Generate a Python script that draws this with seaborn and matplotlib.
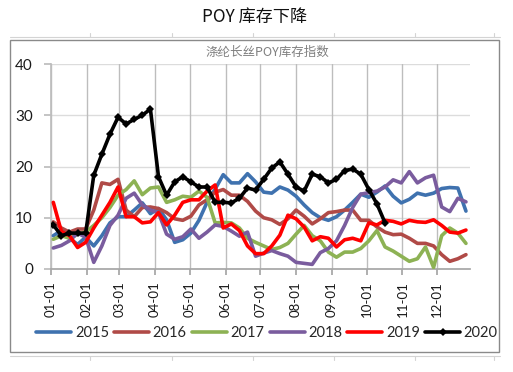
import numpy as np
import pandas as pd
import matplotlib
matplotlib.use("Agg")
import matplotlib.pyplot as plt
import seaborn as sns
from matplotlib.lines import Line2D
from matplotlib.patches import Rectangle

# ---------------- data ----------------
month_labels = ["01-01", "02-01", "03-01", "04-01", "05-01", "06-01",
                "07-01", "08-01", "09-01", "10-01", "11-01", "12-01"]
month_days = [0, 31, 59, 90, 120, 151, 181, 212, 243, 273, 304, 334]
years = ["2015", "2016", "2017", "2018", "2019", "2020"]

v2015 = [6.5, 7.5, 6.0, 4.8, 6.2, 4.5, 6.5, 9.0, 10.2, 10.2, 11.5, 12.9, 10.8,
         11.8, 9.6, 5.2, 5.7, 7.0, 9.5, 13.0, 15.6, 18.4, 16.8, 16.8, 18.6, 17.0,
         15.0, 14.8, 16.0, 15.4, 14.2, 12.5, 11.0, 10.0, 9.5, 10.2, 11.5, 13.0,
         14.6, 14.0, 15.0, 16.2, 14.2, 12.9, 13.6, 14.8, 14.4, 14.8, 15.7, 15.9,
         15.8, 11.3]
v2016 = [9.2, 8.0, 7.2, 7.8, 7.8, 11.5, 16.8, 16.5, 17.5, 11.5, 10.2, 12.0, 12.1,
         11.8, 11.0, 9.8, 9.5, 10.3, 12.5, 13.5, 15.0, 15.5, 14.4, 14.4, 13.2, 11.3,
         10.0, 9.6, 8.7, 9.8, 11.5, 10.3, 8.8, 9.8, 11.0, 11.2, 11.5, 11.5, 9.5,
         9.5, 8.2, 7.2, 6.7, 6.8, 6.0, 5.0, 5.0, 4.5, 2.8, 1.5, 2.0, 2.8]
v2017 = [5.8, 6.5, 6.0, 6.8, 7.2, 8.5, 10.0, 12.0, 14.4, 15.5, 17.2, 14.5, 15.8,
         16.0, 13.0, 13.5, 14.2, 14.0, 15.2, 14.0, 9.0, 9.1, 9.0, 8.0, 6.0, 5.2,
         4.5, 3.8, 4.2, 5.0, 6.8, 8.5, 6.5, 5.5, 3.3, 2.3, 3.3, 3.3, 4.0, 5.5, 7.5,
         4.3, 3.5, 2.5, 1.5, 2.0, 4.3, 0.3, 6.5, 8.0, 7.0, 5.0]
v2018 = [4.1, 4.6, 5.5, 7.0, 6.2, 1.3, 4.5, 8.5, 10.5, 13.8, 14.8, 12.5, 11.5,
         11.0, 6.8, 5.8, 6.3, 7.8, 6.0, 7.2, 8.6, 8.3, 7.4, 6.4, 7.2, 2.5, 3.1,
         3.6, 3.0, 2.5, 1.3, 1.1, 0.9, 3.2, 4.0, 5.5, 8.5, 12.0, 14.6, 14.9, 15.2,
         16.0, 17.4, 16.8, 19.0, 16.8, 17.8, 18.3, 12.1, 11.2, 13.8, 13.1]
v2019 = [13.0, 7.3, 6.5, 4.2, 5.2, 8.0, 10.5, 13.0, 16.0, 10.2, 10.2, 9.0, 9.2,
         11.0, 8.6, 10.5, 13.0, 13.5, 13.5, 15.2, 16.4, 8.0, 8.8, 7.5, 4.5, 3.0,
         3.0, 4.5, 6.6, 10.5, 9.8, 8.2, 5.5, 6.3, 6.0, 4.3, 5.7, 6.0, 5.5, 9.0,
         8.6, 9.5, 9.3, 8.8, 9.5, 9.2, 9.1, 9.6, 8.5, 7.2, 7.0, 7.6]
v2020 = [8.6, 6.5, 7.0, 7.0, 7.0, 18.3, 22.4, 26.3, 29.6, 28.3, 29.2, 30.0, 31.2,
         18.0, 14.4, 17.0, 18.0, 17.0, 16.0, 16.0, 13.0, 13.0, 12.9, 13.8, 15.8,
         15.4, 17.5, 19.7, 20.9, 18.5, 16.0, 15.2, 18.5, 18.0, 16.8, 17.5, 19.2,
         19.5, 18.5, 15.5, 12.7, 9.0]

series = dict(zip(years, [v2015, v2016, v2017, v2018, v2019, v2020]))
colors = {"2015": "#3F72AF", "2016": "#B04A47", "2017": "#8DB254",
          "2018": "#7A5C9E", "2019": "#FF0000", "2020": "#000000"}

# ---------------- figure ----------------
sns.set_theme(style="white")
plt.rcParams["font.family"] = ["Lato", "Noto Sans CJK SC", "DejaVu Sans"]

W, H = 513, 372
fig = plt.figure(figsize=(W / 100, H / 100), dpi=100)

def fx(px):
    return px / W

def fy(py):
    return 1 - py / H

# sheet cell lines (faint) and chart border
fig.add_artist(Line2D([fx(10), fx(500)], [fy(37), fy(37)], color="#d4d4d4", lw=0.8))
fig.add_artist(Line2D([fx(10), fx(500)], [fy(356), fy(356)], color="#d4d4d4", lw=0.8))
for px in [90, 172, 253, 334, 415, 494]:
    fig.add_artist(Line2D([fx(px), fx(px)], [fy(33), fy(37)], color="#d4d4d4", lw=0.8))
    fig.add_artist(Line2D([fx(px), fx(px)], [fy(356), fy(360)], color="#d4d4d4", lw=0.8))
fig.add_artist(Rectangle((fx(10), fy(352)), fx(499) - fx(10), fy(40) - fy(352),
                         fill=False, edgecolor="#8a8a8a", lw=1.0))

fig.text(fx(255), fy(17), "POY 库存下降", ha="center", va="center", fontsize=12.3,
         family=["Noto Sans CJK SC", "DejaVu Sans"], color="#111111")
fig.text(fx(267), fy(52), "涤纶长丝POY库存指数", ha="center", va="center", fontsize=9,
         family=["Noto Sans CJK SC", "DejaVu Sans"], color="#7f7f7f")

ax = fig.add_axes([fx(51), fy(269), fx(470) - fx(51), fy(64) - fy(269)])

for yr in years:
    vals = series[yr]
    df = pd.DataFrame({"day": np.arange(len(vals)) * 7 + 2, "value": vals})
    if yr == "2020":
        sns.lineplot(data=df, x="day", y="value", ax=ax, color=colors[yr], lw=2.6,
                     marker="D", markersize=3.8, markeredgewidth=0, legend=False,
                     zorder=5)
    else:
        sns.lineplot(data=df, x="day", y="value", ax=ax, color=colors[yr], lw=2.6,
                     legend=False, zorder=3)

ax.set_xlim(0, 362.5)
ax.set_ylim(0, 40)
ax.set_xticks(month_days)
ax.set_xticklabels(month_labels, rotation=90, fontsize=9.5, color="#1a1a1a")
ax.set_yticks([0, 10, 20, 30, 40])
ax.set_yticklabels(["0", "10", "20", "30", "40"], fontsize=11, color="#1a1a1a")
ax.set_xlabel("")
ax.set_ylabel("")
for yv in [10, 20, 30, 40]:
    ax.axhline(yv, color="#dcdcdc", lw=1.0, zorder=1)
for d in month_days:
    ax.axvline(d, color="#bdbdbd", lw=1.0, zorder=1)
for s in ["top", "right"]:
    ax.spines[s].set_visible(False)
ax.spines["left"].set_color("#bdbdbd")
ax.spines["bottom"].set_color("#a6a6a6")
ax.tick_params(axis="x", length=4, color="#a6a6a6", pad=5, direction="out", bottom=True)
ax.tick_params(axis="y", length=5, color="#bdbdbd", pad=8, direction="out", left=True)

handles = [Line2D([], [], color=colors[yr], lw=2.6,
                  marker="D" if yr == "2020" else None, markersize=3.8,
                  markeredgewidth=0) for yr in years]
fig.legend(handles, years, loc="center", bbox_to_anchor=(fx(267), fy(333)), ncol=6,
           frameon=False, fontsize=10.5, handlelength=2.4, handletextpad=0.25,
           columnspacing=0.35, borderaxespad=0, borderpad=0)

fig.savefig("out.png", dpi=100)
